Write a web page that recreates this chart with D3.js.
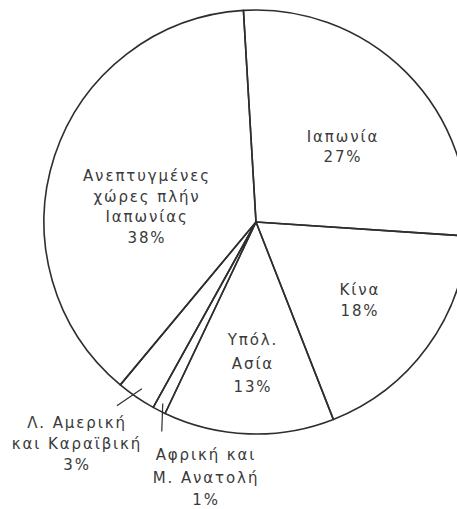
<!DOCTYPE html>
<html>
<head>
<meta charset="utf-8">
<script src="https://cdn.jsdelivr.net/npm/d3@7"></script>
<style>
  body { margin: 0; background: #fff; }
  svg { display: block; }
  text { font-family: "DejaVu Sans", sans-serif; fill: #3a3a3a; }
</style>
</head>
<body>
<script>
// slices, clockwise from the top spoke
var regions = ["Ιαπωνία", "Κίνα", "Υπόλ. Ασία", "Αφρική και Μ. Ανατολή", "Λ. Αμερική και Καραϊβική", "Ανεπτυγμένες χώρες πλήν Ιαπωνίας"];
var shares = [27, 18, 13, 1, 3, 38];
var labelLines = [
  ["Ιαπωνία", "27%"],
  ["Κίνα", "18%"],
  ["Υπόλ.", "Ασία", "13%"],
  ["Αφρική και", "Μ. Ανατολή", "1%"],
  ["Λ. Αμερική", "και Καραϊβική", "3%"],
  ["Ανεπτυγμένες", "χώρες πλήν", "Ιαπωνίας", "38%"]
];

var width = 457;
var height = 509;
var cx = 256, cy = 222, radius = 212;

// label anchor (baseline of first line) relative to pie center, line step
var labelPos = [
  {dx: 87, dy: -80, step: 20},
  {dx: 104, dy: 73, step: 21},
  {dx: -3, dy: 123, step: 23.5},
  {dx: -50, dy: 238, step: 22.5},
  {dx: -179, dy: 206, step: 21},
  {dx: -109, dy: -41, step: 20.5}
];

var svg = d3.select("body")
  .append("svg")
  .attr("width", width)
  .attr("height", height);

var g = svg.append("g")
  .attr("transform", "translate(" + cx + "," + cy + ")");

var start = -3.4 * Math.PI / 180;
var pie = d3.pie()
  .sort(null)
  .startAngle(start)
  .endAngle(start + 2 * Math.PI);

var arc = d3.arc()
  .innerRadius(0)
  .outerRadius(radius);

var arcs = pie(shares);

g.selectAll("path.slice")
  .data(arcs)
  .enter()
  .append("path")
  .attr("class", "slice")
  .attr("d", arc)
  .style("fill", "none")
  .style("stroke", "#2e2e2e")
  .style("stroke-width", 1.6)
  .style("stroke-linejoin", "round");

function polar(a, r) {
  return [r * Math.sin(a), -r * Math.cos(a)];
}

// leader ticks for the two thin slices
var la = arcs[4], af = arcs[3];
var laMid = (la.startAngle + la.endAngle) / 2;
var p0 = polar(laMid, radius - 10);
g.append("line")
  .attr("x1", p0[0]).attr("y1", p0[1])
  .attr("x2", p0[0] - 25).attr("y2", p0[1] + 17)
  .style("stroke", "#2e2e2e").style("stroke-width", 1.2);

var afMid = (af.startAngle + af.endAngle) / 2;
var q0 = polar(afMid, radius - 8);
g.append("line")
  .attr("x1", q0[0]).attr("y1", q0[1])
  .attr("x2", q0[0] - 1).attr("y2", q0[1] + 28)
  .style("stroke", "#2e2e2e").style("stroke-width", 1.2);

// labels
var labels = g.selectAll("text.label")
  .data(labelLines)
  .enter()
  .append("text")
  .attr("class", "label")
  .attr("text-anchor", "middle")
  .style("font-size", "15px")
  .style("letter-spacing", "1.9px");

labels.each(function(lines, i) {
  var t = d3.select(this);
  var p = labelPos[i];
  lines.forEach(function(s, j) {
    t.append("tspan")
      .attr("x", p.dx)
      .attr("y", p.dy + j * p.step)
      .text(s);
  });
});
</script>
</body>
</html>
